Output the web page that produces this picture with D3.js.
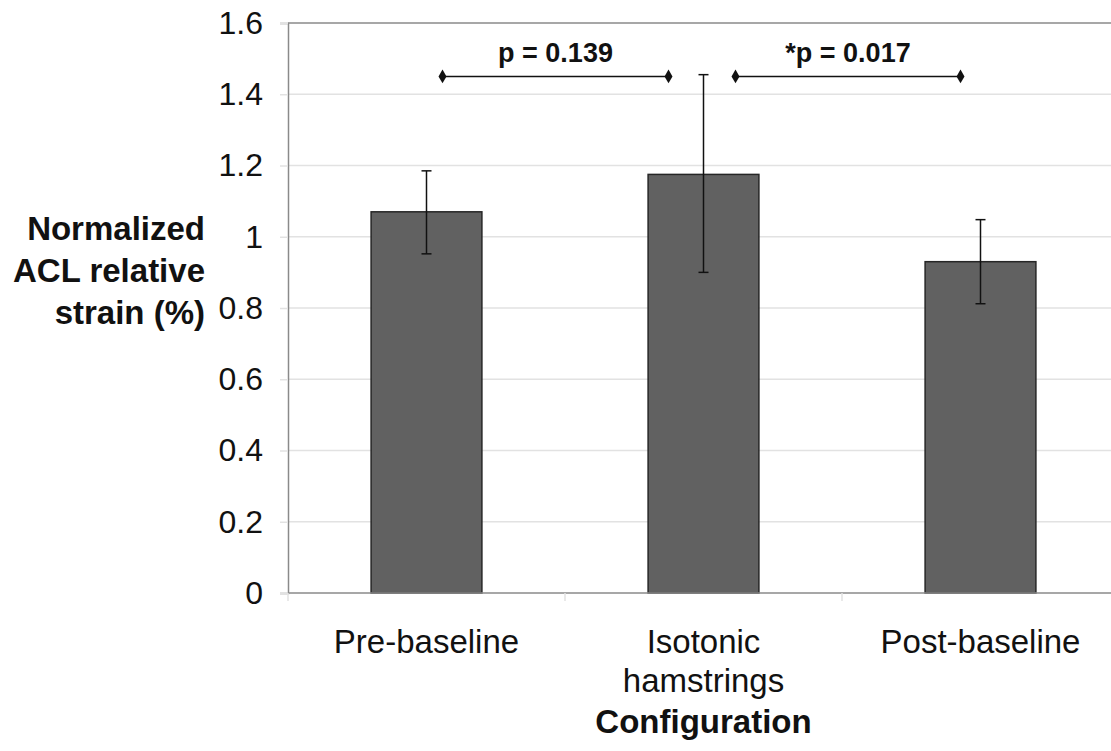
<!DOCTYPE html>
<html>
<head>
<meta charset="utf-8">
<script src="https://cdn.jsdelivr.net/npm/d3@7"></script>
<style>
  body { margin: 0; background: #fff; }
  text { font-family: "Liberation Sans", Arial, sans-serif; fill: #111; }
</style>
</head>
<body>
<div id="chart"></div>
<script>
const categories = ['Pre-baseline', 'Isotonic\nhamstrings', 'Post-baseline'];
const means = [1.07, 1.175, 0.93];
const errLow = [0.952, 0.9, 0.812];
const errHigh = [1.185, 1.455, 1.048];
const yTicks = [0, 0.2, 0.4, 0.6, 0.8, 1, 1.2, 1.4, 1.6];
// comparisons: from category index, to category index, label
const compFrom = [0, 1];
const compTo = [1, 2];
const compLabels = ['p = 0.139', '*p = 0.017'];
const compLevel = 1.45;

const width = 1111, height = 751;
const margin = { top: 23, right: -8, bottom: 157, left: 288 };

const svg = d3.select('#chart').append('svg')
  .attr('width', width)
  .attr('height', height);

const x = d3.scaleBand()
  .domain(d3.range(categories.length))
  .range([margin.left, width - margin.right])
  .paddingInner(0.6)
  .paddingOuter(0.3);

const y = d3.scaleLinear()
  .domain([0, 1.6])
  .range([height - margin.bottom - 1, margin.top]);

const step = x.step();
const bandLeft = i => x(i) - step * x.paddingInner() / 2;
const mid = i => x(i) + x.bandwidth() / 2;

// gridlines
svg.append('g')
  .selectAll('line')
  .data(yTicks.filter(d => d > 0))
  .enter().append('line')
  .attr('x1', margin.left).attr('x2', width)
  .attr('y1', d => y(d)).attr('y2', d => y(d))
  .attr('stroke', d => d === 1.6 ? '#8a8a8a' : '#e2e2e2')
  .attr('stroke-width', 1.5);

// y axis
const yAxis = svg.append('g')
  .attr('transform', `translate(${margin.left},0)`)
  .call(d3.axisLeft(y).tickValues(yTicks).tickSize(8).tickPadding(17).tickFormat(d3.format('')));
yAxis.select('.domain').attr('stroke', '#8a8a8a').attr('stroke-width', 1.5);
yAxis.selectAll('.tick line').attr('stroke', '#e2e2e2').attr('stroke-width', 1.5);
yAxis.selectAll('.tick text').style('font-size', '32px').attr('fill', '#111');

// bars
svg.append('g')
  .selectAll('rect')
  .data(means)
  .enter().append('rect')
  .attr('x', (d, i) => x(i))
  .attr('width', x.bandwidth())
  .attr('y', d => y(d))
  .attr('height', d => y(0) - y(d))
  .attr('fill', '#616161')
  .attr('stroke', '#262626')
  .attr('stroke-width', 1.5);

// x axis
const xAxisG = svg.append('g').attr('transform', `translate(0,${y(0)})`);
xAxisG.append('line')
  .attr('x1', margin.left).attr('x2', width)
  .attr('stroke', '#8a8a8a').attr('stroke-width', 1.5);
xAxisG.selectAll('.xtick')
  .data(d3.range(categories.length))
  .enter().append('line')
  .attr('x1', i => bandLeft(i)).attr('x2', i => bandLeft(i))
  .attr('y1', 0).attr('y2', 8)
  .attr('stroke', '#e2e2e2').attr('stroke-width', 1.5);

// category labels
categories.forEach((c, i) => {
  const t = svg.append('text')
    .attr('x', mid(i))
    .attr('y', 653)
    .attr('text-anchor', 'middle')
    .style('font-size', '33px');
  c.split('\n').forEach((line, j) => {
    t.append('tspan')
      .attr('x', mid(i))
      .attr('dy', j === 0 ? 0 : 39)
      .text(line);
  });
});

// error bars
const eb = svg.append('g').attr('stroke', '#111').attr('stroke-width', 1.5);
means.forEach((m, i) => {
  const cx = mid(i);
  eb.append('line').attr('x1', cx).attr('x2', cx).attr('y1', y(errLow[i])).attr('y2', y(errHigh[i]));
  eb.append('line').attr('x1', cx - 5).attr('x2', cx + 5).attr('y1', y(errLow[i])).attr('y2', y(errLow[i]));
  eb.append('line').attr('x1', cx - 5).attr('x2', cx + 5).attr('y1', y(errHigh[i])).attr('y2', y(errHigh[i]));
});

// comparison brackets
const diamond = d3.symbol().type(d3.symbolDiamond).size(55);
const startGap = [16, 32];
const endGap = [35, 20];
compLabels.forEach((lab, k) => {
  const x1 = mid(compFrom[k]) + startGap[k];
  const x2 = mid(compTo[k]) - endGap[k];
  const yy = y(compLevel);
  svg.append('line')
    .attr('x1', x1).attr('x2', x2).attr('y1', yy).attr('y2', yy)
    .attr('stroke', '#111').attr('stroke-width', 1.5);
  [x1, x2].forEach(px => {
    svg.append('path').attr('d', diamond)
      .attr('transform', `translate(${px},${yy})`)
      .attr('fill', '#111');
  });
  svg.append('text')
    .attr('x', (x1 + x2) / 2)
    .attr('y', yy - 14)
    .attr('text-anchor', 'middle')
    .style('font-size', '27px')
    .style('font-weight', 'bold')
    .text(lab);
});

// y axis title
const yTitle = svg.append('text')
  .attr('text-anchor', 'end')
  .style('font-size', '33px')
  .style('font-weight', 'bold');
['Normalized', 'ACL relative', 'strain (%)'].forEach((line, j) => {
  yTitle.append('tspan').attr('x', 205).attr('y', 240 + j * 42).text(line);
});

// x axis title
svg.append('text')
  .attr('x', mid(1))
  .attr('y', 733)
  .attr('text-anchor', 'middle')
  .style('font-size', '33px')
  .style('font-weight', 'bold')
  .text('Configuration');
</script>
</body>
</html>
